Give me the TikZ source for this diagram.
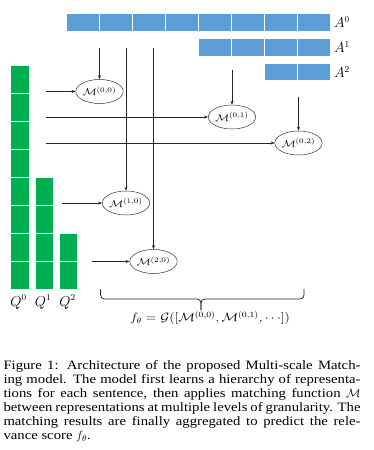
\documentclass[tikz,border=0pt]{standalone}
\usepackage[no-math]{fontspec}
\setmainfont{Liberation Serif}[FakeStretch=1.15]
\usepackage{graphicx}
\usetikzlibrary{shapes.geometric,arrows.meta}
\definecolor{cellblue}{RGB}{93,157,215}
\definecolor{cellgreen}{RGB}{0,176,80}
\newcommand{\hsx}[1]{\scalebox{1.15}[1]{#1}}
\begin{document}
\begin{tikzpicture}[x=1pt,y=-1pt,
  bluecell/.style={fill=cellblue,draw=white,line width=0.6pt},
  greencell/.style={fill=cellgreen,draw=white,line width=0.6pt},
  matchnode/.style={ellipse,draw=black!80,line width=0.5pt,minimum width=40pt,minimum height=24pt,inner sep=0pt,font=\fontsize{10}{11}\selectfont},
  conn/.style={line width=0.7pt,draw=black!85,-{Stealth[length=4pt,width=3pt]}},
  levellabel/.style={font=\fontsize{13.5}{15}\selectfont,inner sep=0pt},
  bracestyle/.style={line width=0.8pt,draw=black!85,rounded corners=4pt}]
\useasboundingbox[fill=white] (0,0) rectangle (373,450);
% A sequences
\foreach \i in {0,...,7} \draw[bluecell] ({66.7+33*\i},13.3) rectangle ++(33,17.5);
\foreach \i in {0,...,3} \draw[bluecell] ({198.7+33*\i},38.3) rectangle ++(33,17.5);
\foreach \i in {0,...,1} \draw[bluecell] ({264.7+33*\i},63.2) rectangle ++(33,17.5);
\node[levellabel] (A0) at (342,22) {$A^0$};
\node[levellabel] (A1) at (342,47) {$A^1$};
\node[levellabel] (A2) at (342,72) {$A^2$};
% Q sequences
\foreach \i in {0,...,7} \draw[greencell] (10.7,{65+28*\i}) rectangle ++(18.3,28);
\foreach \i in {0,...,3} \draw[greencell] (35,{177+28*\i}) rectangle ++(18.3,28);
\foreach \i in {0,...,1} \draw[greencell] (59.3,{233+28*\i}) rectangle ++(18.3,28);
\node[levellabel] (Q0) at (18.5,302) {$Q^0$};
\node[levellabel] (Q1) at (43,302) {$Q^1$};
\node[levellabel] (Q2) at (67.5,302) {$Q^2$};
% matching nodes
\node[matchnode] (M00) at (99.5,91.5) {\hsx{$\mathcal{M}^{(0,0)}$}};
\node[matchnode] (M01) at (232,117) {\hsx{$\mathcal{M}^{(0,1)}$}};
\node[matchnode] (M02) at (298.5,143) {\hsx{$\mathcal{M}^{(0,2)}$}};
\node[matchnode] (M10) at (126,203) {\hsx{$\mathcal{M}^{(1,0)}$}};
\node[matchnode] (M20) at (153.5,261.5) {\hsx{$\mathcal{M}^{(2,0)}$}};
% connector starts
\coordinate (s00) at (99.5,48);
\coordinate (s01) at (232,70);
\coordinate (s02) at (298.5,97);
\coordinate (s10) at (126,48);
\coordinate (s20) at (153.5,48);
\coordinate (h00) at (46,91.5);
\coordinate (h01) at (46,117);
\coordinate (h02) at (46,143);
\coordinate (h10) at (62,203);
\coordinate (h20) at (92,261.5);
\draw[conn] (s00) -- (M00);
\draw[conn] (s01) -- (M01);
\draw[conn] (s02) -- (M02);
\draw[conn] (s10) -- (M10);
\draw[conn] (s20) -- (M20);
\draw[conn] (h00) -- (M00);
\draw[conn] (h01) -- (M01);
\draw[conn] (h02) -- (M02);
\draw[conn] (h10) -- (M10);
\draw[conn] (h20) -- (M20);
% aggregation brace
\coordinate (bl) at (100.5,289);
\coordinate (br) at (304,289);
\coordinate (bm) at (201,299);
\coordinate (btip) at (201,310);
\draw[bracestyle] (bl) |- (bm) -- (btip);
\draw[bracestyle] (br) |- (bm) -- (btip);
\node[inner sep=0pt,font=\fontsize{11.6}{13}\selectfont] (f) at (210,318) {\hsx{$f_\theta = \mathcal{G}([\mathcal{M}^{(0,0)}, \mathcal{M}^{(0,1)}, \cdots])$}};
% caption
\node[anchor=base west,inner sep=0pt,text width=357pt,align=justify,font=\fontsize{12.8}{14}\selectfont] (cap) at (3.3,369) {\sloppy Figure 1: Architecture of the proposed Multi-scale Match-\linebreak ing model. The model first learns a hierarchy of representa-\linebreak tions for each sentence, then applies matching function $\mathcal{M}$\linebreak between representations at multiple levels of granularity. The\linebreak matching results are finally aggregated to predict the rele-\linebreak vance score $f_\theta$.};
\end{tikzpicture}
\end{document}
